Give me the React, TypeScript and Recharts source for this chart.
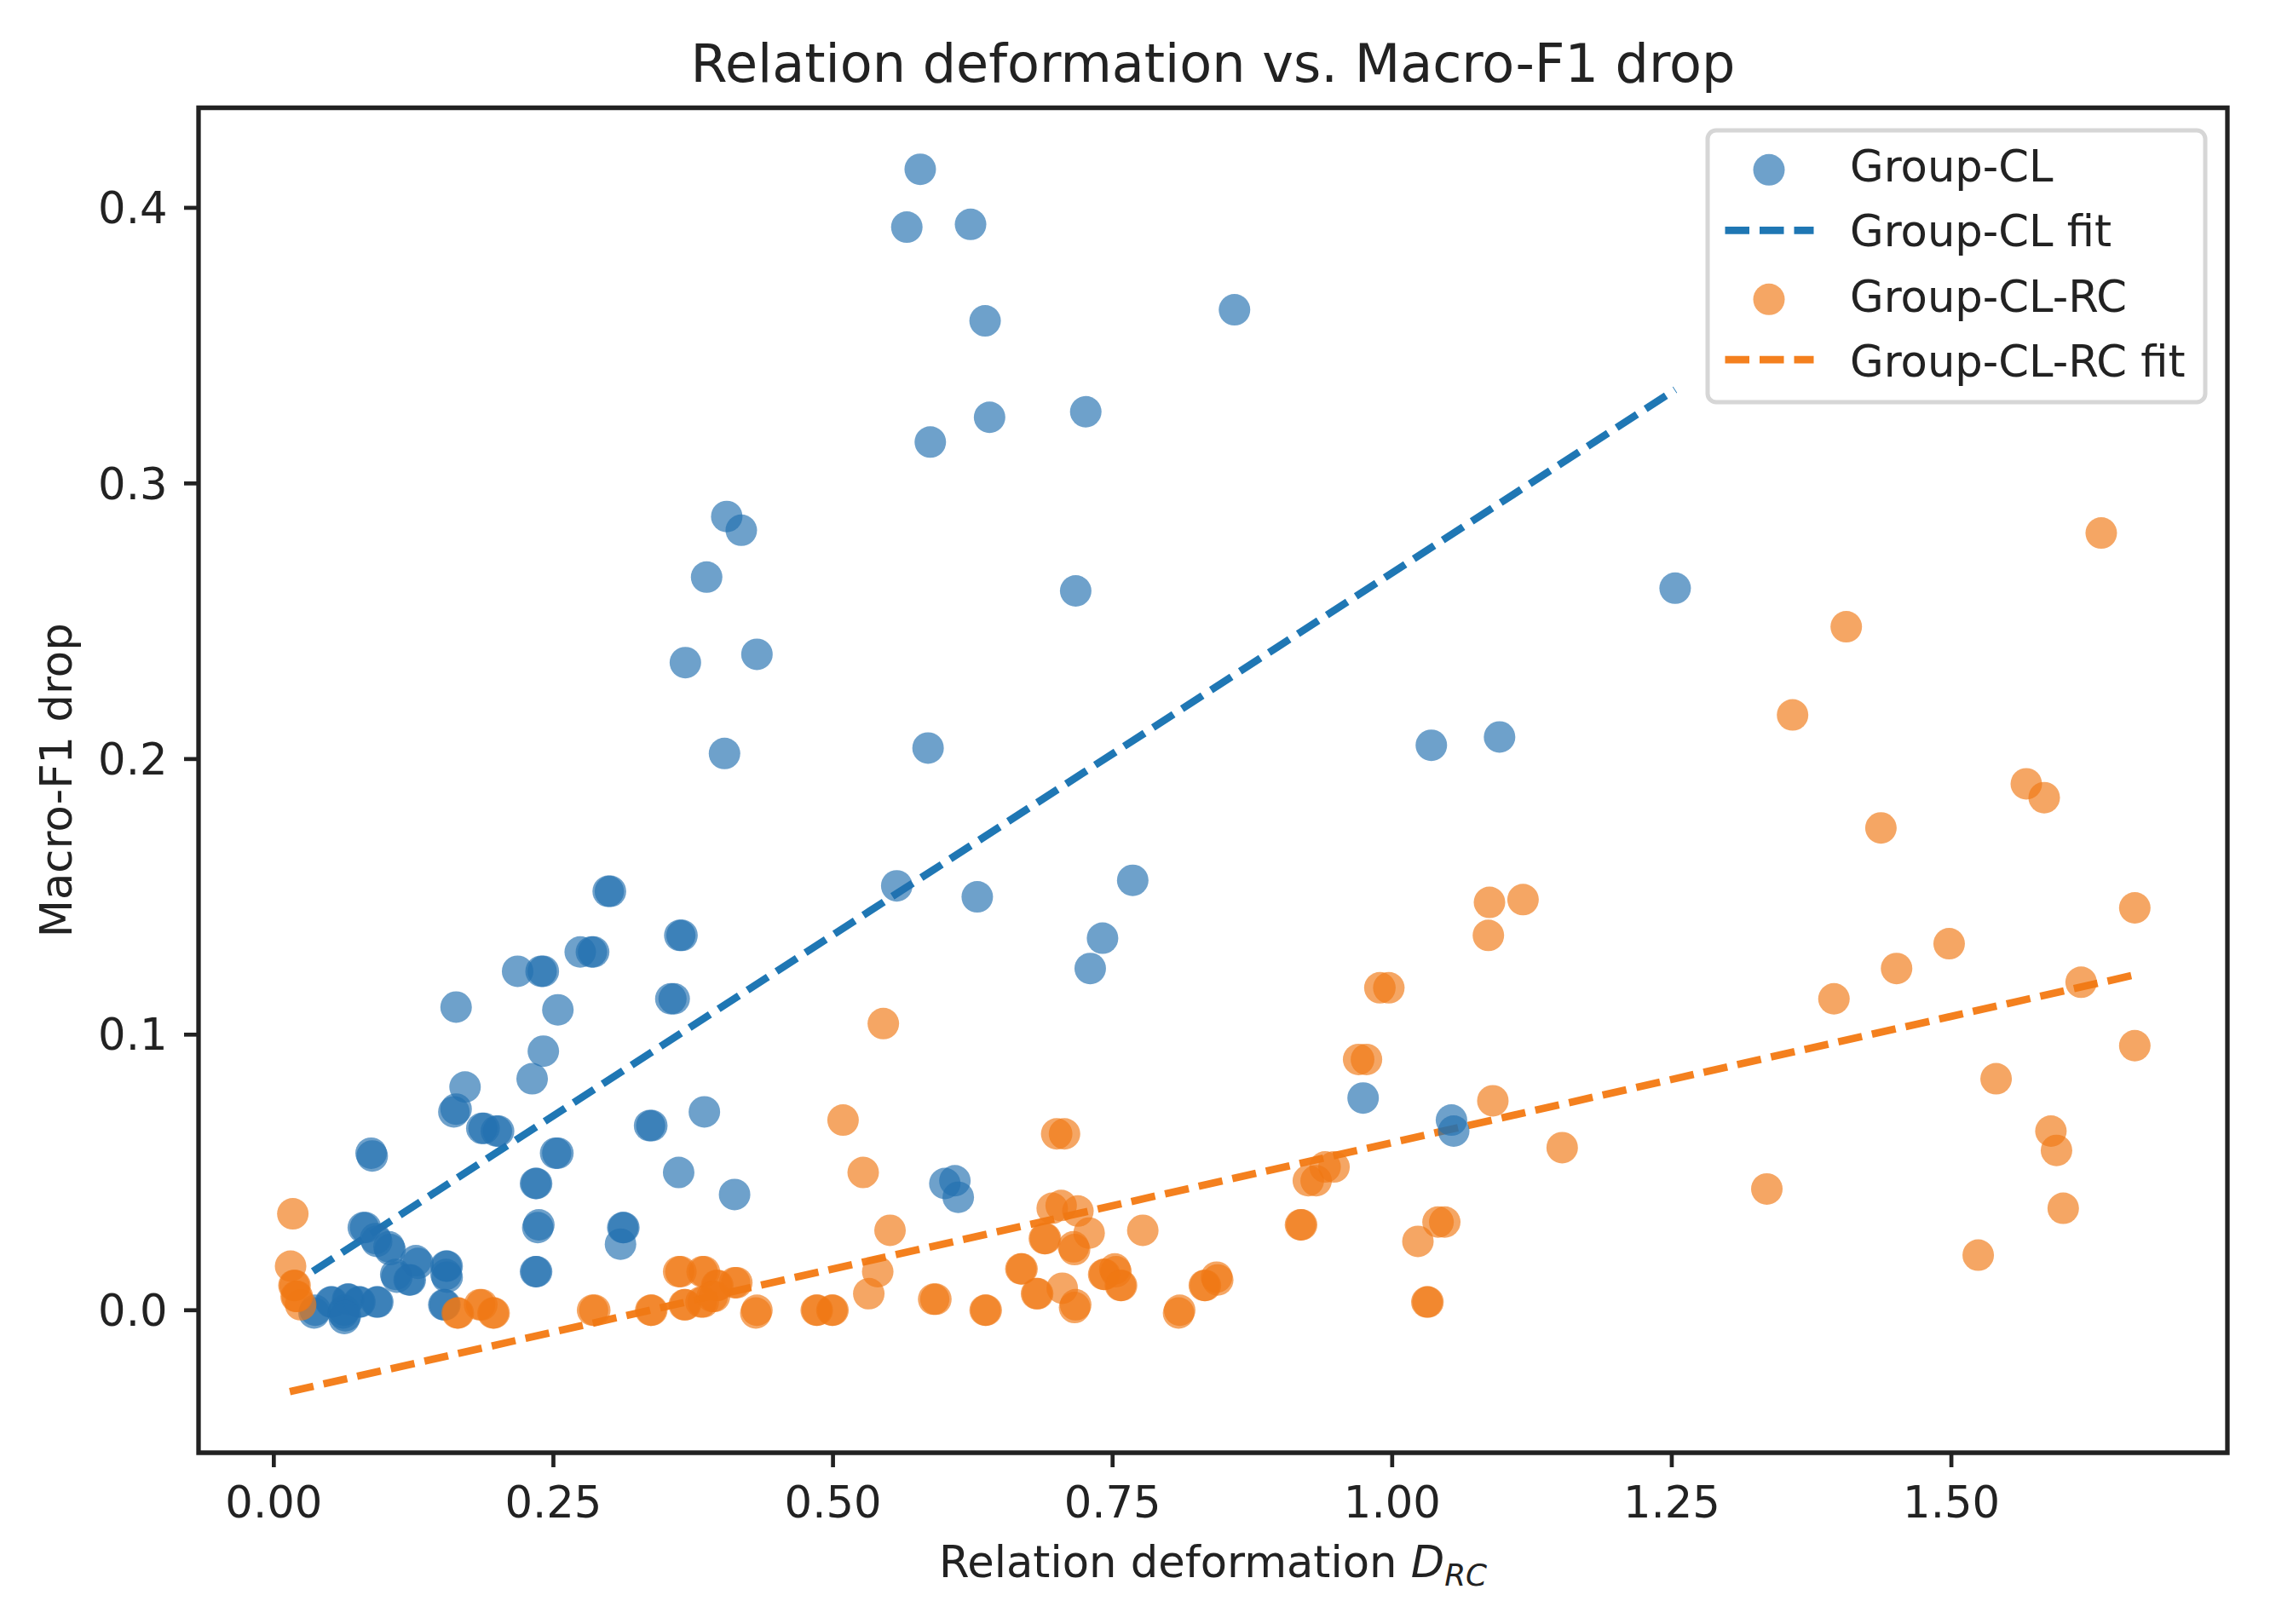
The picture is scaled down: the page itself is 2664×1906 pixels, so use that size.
import React from 'react';
import { ScatterChart, Scatter, XAxis, YAxis, ReferenceLine, ReferenceArea, Label } from 'recharts';

// ---- Data ----
const groupClX = [
  0.578, 0.566, 0.623, 0.636, 0.640, 0.587, 0.726, 0.405, 0.418, 0.387, 0.368, 0.432, 0.403, 0.585, 0.717, 0.859, 1.253, 1.035, 1.096,
  0.557, 0.629, 0.768, 0.741, 0.730, 0.163, 0.254, 0.218, 0.274, 0.241, 0.231, 0.171, 0.385, 0.362, 0.412, 0.600, 0.609, 0.612, 0.310, 0.974, 1.053, 1.055,
  0.299, 0.301, 0.363, 0.365, 0.284, 0.286, 0.239, 0.241, 0.355, 0.358, 0.161, 0.163, 0.186, 0.188, 0.199, 0.201, 0.336, 0.338,
  0.087, 0.088, 0.252, 0.254, 0.234, 0.235, 0.236, 0.237, 0.312, 0.313, 0.234, 0.235, 0.080, 0.082, 0.091, 0.092, 0.103, 0.104,
  0.127, 0.129, 0.154, 0.155, 0.154, 0.155, 0.109, 0.110, 0.121, 0.122, 0.152, 0.153, 0.036, 0.037, 0.051, 0.052, 0.062, 0.063,
  0.066, 0.067, 0.076, 0.077, 0.092, 0.093, 0.063, 0.064,
];
const groupClY = [
  0.414, 0.393, 0.394, 0.359, 0.324, 0.315, 0.326, 0.288, 0.283, 0.266, 0.235, 0.238, 0.202, 0.204, 0.261, 0.363, 0.262, 0.205, 0.208,
  0.154, 0.150, 0.156, 0.135, 0.124, 0.110, 0.109, 0.123, 0.130, 0.094, 0.084, 0.081, 0.072, 0.050, 0.042, 0.046, 0.047, 0.041, 0.024, 0.077, 0.069, 0.065,
  0.152, 0.152, 0.136, 0.136, 0.130, 0.130, 0.123, 0.123, 0.113, 0.113, 0.072, 0.073, 0.066, 0.066, 0.065, 0.065, 0.067, 0.067,
  0.057, 0.056, 0.057, 0.057, 0.046, 0.046, 0.030, 0.031, 0.030, 0.030, 0.014, 0.014, 0.030, 0.030, 0.026, 0.025, 0.023, 0.022,
  0.018, 0.017, 0.016, 0.016, 0.013, 0.012, 0.013, 0.012, 0.011, 0.011, 0.002, 0.002, -0.001, 0.000, 0.003, 0.003, -0.001, 0.000,
  0.004, 0.004, 0.003, 0.003, 0.003, 0.003, -0.003, -0.002,
];

const groupClRcX = [
  0.017, 0.015, 0.024, 0.509, 0.527, 0.545, 0.551, 0.540, 0.532, 0.719, 0.729, 0.705, 0.777, 0.925, 0.932, 0.940, 0.948, 1.023,
  1.090, 1.086, 1.087, 1.117, 1.152, 1.335, 1.395, 1.437, 1.451, 1.498, 1.524, 1.540, 1.589, 1.594, 1.600, 1.616, 1.664, 1.664,
  1.634, 1.406, 1.358, 1.567, 1.583,
  0.018, 0.019, 0.020, 0.021, 0.164, 0.165, 0.184, 0.186, 0.196, 0.197, 0.285, 0.287, 0.337, 0.338, 0.362, 0.364, 0.383, 0.385,
  0.396, 0.397, 0.412, 0.414, 0.367, 0.368, 0.382, 0.384, 0.392, 0.394, 0.431, 0.432, 0.485, 0.486, 0.499, 0.500, 0.590, 0.592,
  0.636, 0.637, 0.700, 0.707, 0.696, 0.704, 0.689, 0.690, 0.715, 0.716, 0.668, 0.669, 0.682, 0.683, 0.716, 0.717, 0.742, 0.743,
  0.752, 0.753, 0.757, 0.758, 0.809, 0.810, 0.832, 0.833, 0.843, 0.844, 0.918, 0.919, 0.970, 0.977, 0.989, 0.997, 1.031, 1.032,
  1.041, 1.047,
];
const groupClRcY = [
  0.035, 0.016, 0.002, 0.069, 0.050, 0.104, 0.029, 0.014, 0.006, 0.036, 0.028, 0.008, 0.029, 0.047, 0.047, 0.052, 0.052, 0.025,
  0.076, 0.136, 0.148, 0.149, 0.059, 0.044, 0.113, 0.175, 0.124, 0.133, 0.020, 0.084, 0.065, 0.058, 0.037, 0.119, 0.146, 0.096,
  0.282, 0.248, 0.216, 0.191, 0.186,
  0.009, 0.009, 0.005, 0.005, -0.001, -0.001, 0.002, 0.002, -0.001, -0.001, 0.000, 0.000, 0.000, 0.000, 0.014, 0.014, 0.014, 0.014,
  0.009, 0.009, 0.010, 0.010, 0.002, 0.002, 0.003, 0.003, 0.005, 0.005, -0.001, 0.000, 0.000, 0.000, 0.000, 0.000, 0.004, 0.004,
  0.000, 0.000, 0.064, 0.064, 0.037, 0.038, 0.026, 0.026, 0.023, 0.022, 0.015, 0.015, 0.006, 0.006, 0.001, 0.002, 0.013, 0.013,
  0.015, 0.014, 0.009, 0.009, -0.001, 0.000, 0.009, 0.009, 0.012, 0.011, 0.031, 0.031, 0.091, 0.091, 0.117, 0.117, 0.003, 0.003,
  0.032, 0.032,
];

// Fitted line end points
const groupClFitX = [0.035, 1.253];
const groupClFitY = [0.0141, 0.334];
const groupClRcFitX = [0.0143, 1.662];
const groupClRcFitY = [-0.0295, 0.1215];

const xTicks = [0, 0.25, 0.5, 0.75, 1.0, 1.25, 1.5];
const yTicks = [0, 0.1, 0.2, 0.3, 0.4];
const X_DOMAIN = [-0.0673, 1.7468];
const Y_DOMAIN = [-0.0517, 0.4363];

const seriesNames = ['Group-CL', 'Group-CL fit', 'Group-CL-RC', 'Group-CL-RC fit'];

// ---- Styles ----
const FONT = '"DejaVu Sans", Verdana, sans-serif';
const INK = '#222222';
const BLUE_PT = 'rgb(35,112,176)';
const ORANGE_PT = 'rgb(240,120,20)';
const PT_ALPHA = 0.66;
const BLUE_LINE = '#1f77b4';
const ORANGE_LINE = '#f4801e';
const R = 18.5;

const clData = groupClX.map((x, i) => ({ x, y: groupClY[i] }));
const rcData = groupClRcX.map((x, i) => ({ x, y: groupClRcY[i] }));

const makeShape = (color: string) => (props: any) => (
  <circle cx={props.cx} cy={props.cy} r={R} fill={color} fillOpacity={PT_ALPHA} stroke="none" />
);

const XTick = (props: any) => (
  <text x={props.x} y={props.y} dy="0.71em" textAnchor="middle" fontFamily={FONT} fontSize={51.2} fill={INK}>
    {Number(props.payload.value).toFixed(2)}
  </text>
);
const YTick = (props: any) => (
  <text x={props.x} y={props.y} dy="0.355em" textAnchor="end" fontFamily={FONT} fontSize={51.2} fill={INK}>
    {Number(props.payload.value).toFixed(1)}
  </text>
);

const XLabelContent = (props: any) => {
  const vb = props.viewBox || { x: 233, y: 1705, width: 2381, height: 201 };
  return (
    <text x={vb.x + vb.width / 2} y={vb.y + 146} textAnchor="middle" fontFamily={FONT} fontSize={51.2} fill={INK} style={{ whiteSpace: 'pre' }}>
      <tspan>Relation deformation </tspan>
      <tspan fontStyle="italic">D</tspan>
      <tspan fontStyle="italic" fontSize={35.8} dy={9.6}>RC</tspan>
    </text>
  );
};

const YLabelContent = (props: any) => {
  const vb = props.viewBox || { x: 0, y: 126.5, width: 233, height: 1578.5 };
  const cx = (vb.x || 0) + 83.5;
  const cy = vb.y + vb.height / 2;
  return (
    <text x={cx} y={cy} transform={`rotate(-90, ${cx}, ${cy})`} textAnchor="middle" fontFamily={FONT} fontSize={51.2} fill={INK}>
      Macro-F1 drop
    </text>
  );
};

export default function App() {
  return (
    <div style={{ position: 'absolute', left: 0, top: 0, width: 2664, height: 1906, background: '#ffffff' }}>
      <ScatterChart width={2664} height={1906} margin={{ top: 126.5, right: 50, bottom: 0, left: 0 }}>
        <XAxis
          type="number"
          dataKey="x"
          domain={X_DOMAIN}
          ticks={xTicks}
          interval={0}
          allowDataOverflow
          height={201}
          axisLine={false}
          stroke={INK}
          tickSize={17}
          tickMargin={22.6}
          tickLine={{ stroke: INK, strokeWidth: 4.7 }}
          tick={XTick}
        >
          <Label content={XLabelContent} />
        </XAxis>
        <YAxis
          type="number"
          dataKey="y"
          domain={Y_DOMAIN}
          ticks={yTicks}
          interval={0}
          allowDataOverflow
          width={233}
          axisLine={false}
          stroke={INK}
          tickSize={17}
          tickMargin={19.5}
          tickLine={{ stroke: INK, strokeWidth: 4.7 }}
          tick={YTick}
        >
          <Label content={YLabelContent} />
        </YAxis>
        <ReferenceArea
          x1={X_DOMAIN[0]}
          x2={X_DOMAIN[1]}
          y1={Y_DOMAIN[0]}
          y2={Y_DOMAIN[1]}
          fill="none"
          fillOpacity={0}
          stroke={INK}
          strokeWidth={5.3}
          ifOverflow="visible"
        />
        <Scatter name={seriesNames[0]} data={clData} shape={makeShape(BLUE_PT)} isAnimationActive={false} />
        <ReferenceLine
          segment={[
            { x: groupClFitX[0], y: groupClFitY[0] },
            { x: groupClFitX[1], y: groupClFitY[1] },
          ]}
          stroke={BLUE_LINE}
          strokeWidth={8.7}
          strokeDasharray="28.5 12"
          ifOverflow="visible"
        />
        <Scatter name={seriesNames[2]} data={rcData} shape={makeShape(ORANGE_PT)} isAnimationActive={false} />
        <ReferenceLine
          segment={[
            { x: groupClRcFitX[0], y: groupClRcFitY[0] },
            { x: groupClRcFitX[1], y: groupClRcFitY[1] },
          ]}
          stroke={ORANGE_LINE}
          strokeWidth={8.7}
          strokeDasharray="28.5 12"
          ifOverflow="visible"
        />
      </ScatterChart>
      <svg
        width={2664}
        height={1906}
        style={{ position: 'absolute', left: 0, top: 0, pointerEvents: 'none' }}
      >
        <text x={1423.5} y={96} textAnchor="middle" fontFamily={FONT} fontSize={62} fill={INK}>
          Relation deformation vs. Macro-F1 drop
        </text>
        <g fontFamily={FONT} fontSize={51.2} fill={INK}>
          <rect x={2004} y={153} width={584} height={319} rx={10} ry={10} fill="#ffffff" fillOpacity={0.8} stroke="#d6d6d6" strokeWidth={5} />
          <circle cx={2076} cy={199.3} r={R} fill={BLUE_PT} fillOpacity={PT_ALPHA} />
          <text x={2171} y={212.7}>{seriesNames[0]}</text>
          <line x1={2024.5} x2={2128.5} y1={270.3} y2={270.3} stroke={BLUE_LINE} strokeWidth={8.7} strokeDasharray="28.5 12" />
          <text x={2171} y={289.2}>{seriesNames[1]}</text>
          <circle cx={2076} cy={351.3} r={R} fill={ORANGE_PT} fillOpacity={PT_ALPHA} />
          <text x={2171} y={365.7}>{seriesNames[2]}</text>
          <line x1={2024.5} x2={2128.5} y1={422.2} y2={422.2} stroke={ORANGE_LINE} strokeWidth={8.7} strokeDasharray="28.5 12" />
          <text x={2171} y={442.2}>{seriesNames[3]}</text>
        </g>
      </svg>
    </div>
  );
}
